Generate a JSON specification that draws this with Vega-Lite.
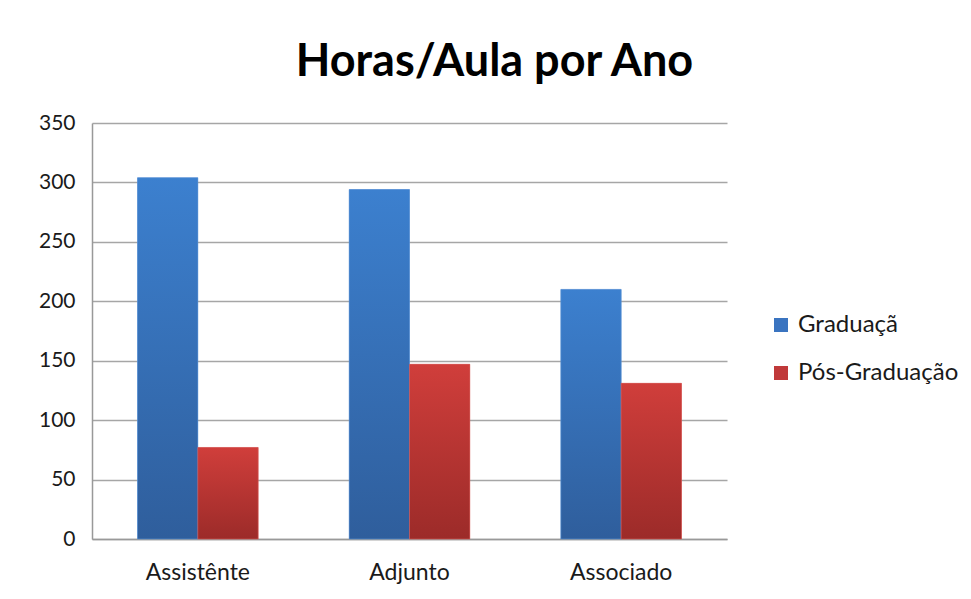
{
  "$schema": "https://vega.github.io/schema/vega-lite/v6.json",
  "autosize": {"type": "none"},
  "width": 635,
  "height": 416,
  "padding": {"left": 92, "top": 123, "right": 244, "bottom": 60},
  "background": "white",
  "title": {
    "text": "Horas/Aula por Ano",
    "font": "Lato",
    "fontWeight": "bold",
    "fontSize": 45,
    "color": "#000000",
    "anchor": "middle",
    "dx": 85,
    "offset": 27
  },
  "config": {
    "view": {"stroke": null},
    "axis": {
      "labelFont": "Lato",
      "labelFontSize": 21,
      "labelColor": "#1a1a1a",
      "domainColor": "#999999",
      "domainWidth": 1.5,
      "gridColor": "#a6a6a6",
      "gridWidth": 1.5,
      "ticks": false,
      "title": null
    },
    "legend": {
      "labelFont": "Lato",
      "labelFontSize": 24,
      "labelColor": "#1a1a1a",
      "labelLimit": 400
    }
  },
  "data": {
    "values": [
      {"cargo": "Assistênte", "serie": "Graduaçã", "horas": 304},
      {"cargo": "Assistênte", "serie": "Pós-Graduação", "horas": 77},
      {"cargo": "Adjunto", "serie": "Graduaçã", "horas": 294},
      {"cargo": "Adjunto", "serie": "Pós-Graduação", "horas": 147},
      {"cargo": "Associado", "serie": "Graduaçã", "horas": 210},
      {"cargo": "Associado", "serie": "Pós-Graduação", "horas": 131}
    ]
  },
  "encoding": {
    "x": {
      "field": "cargo",
      "type": "nominal",
      "sort": ["Assistênte", "Adjunto", "Associado"],
      "scale": {"paddingInner": 0.43, "paddingOuter": 0.215},
      "axis": {"labelAngle": 0, "labelPadding": 22, "grid": false, "labelFontSize": 23}
    },
    "xOffset": {
      "field": "serie",
      "type": "nominal",
      "scale": {"domain": ["Graduaçã", "Pós-Graduação"], "paddingInner": 0, "paddingOuter": 0}
    },
    "y": {
      "field": "horas",
      "type": "quantitative",
      "scale": {"domain": [0, 350], "nice": false},
      "axis": {"values": [0, 50, 100, 150, 200, 250, 300, 350], "labelPadding": 17, "grid": true}
    }
  },
  "layer": [
    {
      "mark": {"type": "bar"},
      "encoding": {
        "color": {
          "field": "serie",
          "type": "nominal",
          "scale": {"domain": ["Graduaçã", "Pós-Graduação"], "range": ["#3a74c0", "#c0393a"]},
          "legend": {
            "title": null,
            "orient": "none",
            "legendX": 677,
            "legendY": 190,
            "symbolType": "square",
            "symbolSize": 196,
            "symbolStrokeWidth": 0,
            "rowPadding": 24,
            "labelOffset": 5,
            "labelLimit": 400
          }
        }
      }
    },
    {
      "transform": [{"filter": "datum.serie === 'Graduaçã'"}],
      "mark": {
        "type": "bar",
        "fill": {
          "gradient": "linear", "x1": 0, "y1": 0, "x2": 0, "y2": 1,
          "stops": [{"offset": 0, "color": "#3c80cf"}, {"offset": 1, "color": "#2f5e9c"}]
        },
        "stroke": "#5b93d6",
        "strokeWidth": 0.6
      }
    },
    {
      "transform": [{"filter": "datum.serie === 'Pós-Graduação'"}],
      "mark": {
        "type": "bar",
        "fill": {
          "gradient": "linear", "x1": 0, "y1": 0, "x2": 0, "y2": 1,
          "stops": [{"offset": 0, "color": "#d03e3b"}, {"offset": 1, "color": "#9c2b29"}]
        },
        "stroke": "#d85a57",
        "strokeWidth": 0.6
      }
    }
  ]
}
